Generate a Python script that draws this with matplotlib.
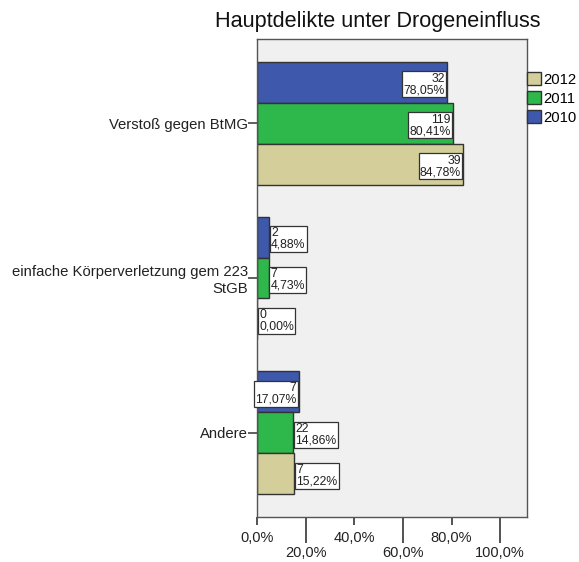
import matplotlib.pyplot as plt
import numpy as np
from matplotlib.patches import Patch

plt.rcParams['font.family'] = ['Liberation Sans', 'DejaVu Sans']

# data
categories = ['Verstoß gegen BtMG', 'einfache Körperverletzung gem 223\nStGB', 'Andere']
years = ['2010', '2011', '2012']
counts_2010 = [32, 2, 7]
counts_2011 = [119, 7, 22]
counts_2012 = [39, 0, 7]
pct_2010 = [78.05, 4.88, 17.07]
pct_2011 = [80.41, 4.73, 14.86]
pct_2012 = [84.78, 0.00, 15.22]
x_ticks = [0, 20, 40, 60, 80, 100]

colors = {'2010': '#3e58ac', '2011': '#2eb84b', '2012': '#d4cf9a'}

fig = plt.figure(figsize=(5.79, 5.62), dpi=100)
ax = fig.add_axes([257 / 579, 45 / 562, 270 / 579, 478 / 562])
ax.set_facecolor('#f0f0f0')

h = 41 / 155
y = np.arange(len(categories))
series = [('2010', counts_2010, pct_2010, -h),
          ('2011', counts_2011, pct_2011, 0.0),
          ('2012', counts_2012, pct_2012, h)]

for year, counts, pcts, off in series:
    ax.barh(y + off, pcts, height=h, color=colors[year],
            edgecolor='#333333', linewidth=1.0, zorder=2)
    for yi, n, p in zip(y, counts, pcts):
        label = f"{n}\n{p:.2f}%".replace('.', ',')
        inside = p >= 16
        ax.annotate(label, xy=(p, yi + off),
                    xytext=(-1.5 if inside else 1.5, -1.5), textcoords='offset points',
                    ha='right' if inside else 'left', va='center',
                    multialignment='right' if inside else 'left',
                    fontsize=8.8, linespacing=0.95, color='#222222', zorder=4,
                    bbox=dict(boxstyle='square,pad=0.1', fc='white',
                              ec='#333333', lw=0.9))

ax.set_xlim(0, 111)
ax.set_ylim(2 + 0.397 + 0.148, -0.397 - 0.148)

ax.set_yticks(y)
ax.set_yticklabels(categories, fontsize=10.7, color='#222222', ha='right')
ax.tick_params(axis='y', length=6.5, width=1.2, color='#444444', pad=0)

major = [t for i, t in enumerate(x_ticks) if i % 2 == 0]
minor = [t for i, t in enumerate(x_ticks) if i % 2 == 1]
ax.set_xticks(major, [f"{t:.1f}%".replace('.', ',') for t in major])
ax.set_xticks(minor, [f"{t:.1f}%".replace('.', ',') for t in minor], minor=True)
ax.tick_params(axis='x', which='major', length=6, width=1.3, color='#444444',
               labelsize=10.5, labelcolor='#222222', pad=4)
ax.tick_params(axis='x', which='minor', length=19, width=1.3, color='#444444',
               labelsize=10.5, labelcolor='#222222', pad=2)

for s in ax.spines.values():
    s.set_color('#555555')
    s.set_linewidth(1.0)

fig.text(378 / 579, 1 - 27 / 562, 'Hauptdelikte unter Drogeneinfluss',
         fontsize=15.6, ha='center', va='baseline', color='#111111')

handles = [Patch(facecolor=colors[yr], edgecolor='#333333', linewidth=1.0)
           for yr in ['2012', '2011', '2010']]
fig.legend(handles, ['2012', '2011', '2010'], loc='upper left',
           bbox_to_anchor=(527 / 579, 1 - 72 / 562), frameon=False,
           fontsize=10.7, handlelength=0.95, handleheight=1.0,
           handletextpad=0.15, labelspacing=0.28, borderpad=0, borderaxespad=0)

fig.savefig('out.png', dpi=100)
